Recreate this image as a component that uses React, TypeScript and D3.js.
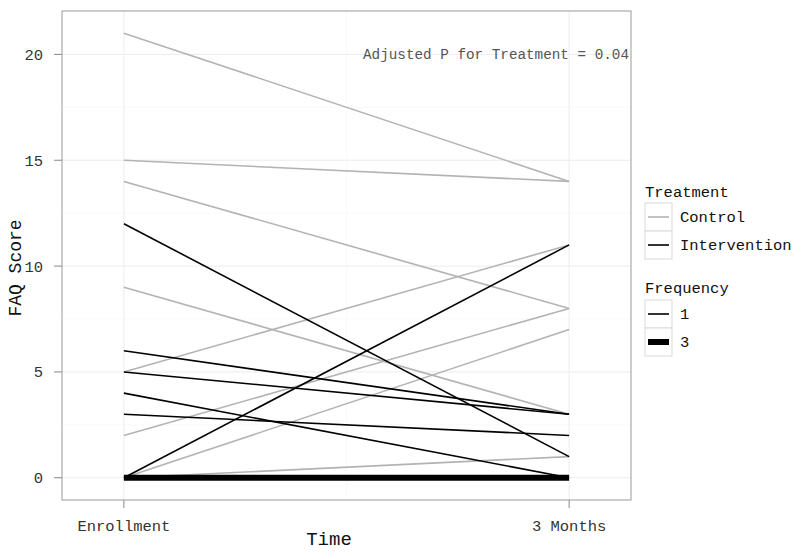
import React from "react";
import * as d3 from "d3";

const times = ["Enrollment", "3 Months"];
const treatments = ["Control", "Intervention"];
const frequencies = ["1", "3"];
// each subject: treatment, enrollment score, 3-month score, frequency
const subjTreatment = ["Control", "Control", "Control", "Control", "Control", "Control", "Control", "Control",
  "Intervention", "Intervention", "Intervention", "Intervention", "Intervention", "Intervention", "Intervention"];
const enrollScores = [21, 15, 14, 9, 5, 2, 0, 0, 12, 6, 5, 4, 3, 0, 0];
const monthScores = [14, 14, 8, 3, 11, 8, 7, 1, 1, 3, 3, 0, 2, 11, 0];
const subjFrequency = ["1", "1", "1", "1", "1", "1", "1", "1", "1", "1", "1", "1", "1", "1", "3"];
const yTicks = [0, 5, 10, 15, 20];
const yMinor = [2.5, 7.5, 12.5, 17.5];
const annotation = "Adjusted P for Treatment = 0.04";

const W = 800, H = 552;
const panel = { left: 62, right: 631, top: 11, bottom: 500 };
const FONT = "'Liberation Mono', 'DejaVu Sans Mono', monospace";

export default function App() {
  const x = d3.scalePoint<string>().domain(times).range([panel.left, panel.right]).padding(0.139);
  const y = d3.scaleLinear().domain([-1.05, 22.05]).range([panel.bottom, panel.top]);
  const color = d3.scaleOrdinal<string, string>().domain(treatments).range(["#b3b3b3", "#000000"]);
  const width = d3.scaleOrdinal<string, number>().domain(frequencies).range([1.6, 6]);
  const line = d3.line<[string, number]>().x((d) => x(d[0]) as number).y((d) => y(d[1]));
  const xMid = ((x(times[0]) as number) + (x(times[1]) as number)) / 2;

  const order = d3.range(enrollScores.length).sort((a, b) =>
    (subjTreatment[a] === "Control" ? 0 : 1) - (subjTreatment[b] === "Control" ? 0 : 1));

  return (
    <svg width={W} height={H} style={{ display: "block", position: "absolute", left: 0, top: 0 }}>
      <rect x={0} y={0} width={W} height={H} fill="#fff" />
      {/* grid */}
      {yMinor.map((v) => (
        <line key={"ym" + v} x1={panel.left} x2={panel.right} y1={y(v)} y2={y(v)} stroke="#f5f5f5" strokeWidth={0.6} />
      ))}
      {yTicks.map((v) => (
        <line key={"y" + v} x1={panel.left} x2={panel.right} y1={y(v)} y2={y(v)} stroke="#ececec" strokeWidth={1} />
      ))}
      <line x1={xMid} x2={xMid} y1={panel.top} y2={panel.bottom} stroke="#f5f5f5" strokeWidth={0.6} />
      {times.map((t) => (
        <line key={"x" + t} x1={x(t)} x2={x(t)} y1={panel.top} y2={panel.bottom} stroke="#ececec" strokeWidth={1} />
      ))}
      {/* lines */}
      {order.map((i) => (
        <path key={i}
          d={line([[times[0], enrollScores[i]], [times[1], monthScores[i]]]) || ""}
          fill="none" stroke={color(subjTreatment[i])} strokeWidth={width(subjFrequency[i])} />
      ))}
      <text x={629} y={59} textAnchor="end" fontFamily={FONT} fontSize={14.3} fill="#555">{annotation}</text>
      {/* panel border */}
      <rect x={panel.left} y={panel.top} width={panel.right - panel.left} height={panel.bottom - panel.top}
        fill="none" stroke="#9a9a9a" strokeWidth={1} />
      {/* y axis */}
      {yTicks.map((v) => (
        <g key={"yt" + v}>
          <line x1={panel.left - 8} x2={panel.left} y1={y(v)} y2={y(v)} stroke="#888" />
          <text x={43} y={y(v)} dy="0.35em" textAnchor="end" fontFamily={FONT} fontSize={15.5} fill="#333">{v}</text>
        </g>
      ))}
      {times.map((t) => (
        <g key={"xt" + t}>
          <line x1={x(t)} x2={x(t)} y1={panel.bottom} y2={panel.bottom + 8} stroke="#888" />
          <text x={x(t)} y={531} textAnchor="middle" fontFamily={FONT} fontSize={15.5} fill="#333">{t}</text>
        </g>
      ))}
      <text x={329} y={545} textAnchor="middle" fontFamily={FONT} fontSize={19} fill="#111">Time</text>
      <text transform={`translate(21,268) rotate(-90)`} textAnchor="middle"
        fontFamily={FONT} fontSize={18} fill="#111">FAQ Score</text>
      {/* legend */}
      <text x={645} y={197} fontFamily={FONT} fontSize={15.5} fill="#111">Treatment</text>
      {treatments.map((t, i) => (
        <g key={"lt" + t} transform={`translate(645,${203 + i * 28})`}>
          <rect x={0} y={0} width={27} height={28} fill="#fff" stroke="#d9d9d9" />
          <line x1={3} x2={24} y1={14} y2={14} stroke={color(t)} strokeWidth={1.6} />
          <text x={35} y={14} dy="0.35em" fontFamily={FONT} fontSize={15.5} fill="#111">{t}</text>
        </g>
      ))}
      <text x={645} y={293} fontFamily={FONT} fontSize={15.5} fill="#111">Frequency</text>
      {frequencies.map((f, i) => (
        <g key={"lf" + f} transform={`translate(645,${300 + i * 28})`}>
          <rect x={0} y={0} width={27} height={28} fill="#fff" stroke="#d9d9d9" />
          <line x1={3} x2={24} y1={14} y2={14} stroke="#000" strokeWidth={width(f)} />
          <text x={35} y={14} dy="0.35em" fontFamily={FONT} fontSize={15.5} fill="#111">{f}</text>
        </g>
      ))}
    </svg>
  );
}
